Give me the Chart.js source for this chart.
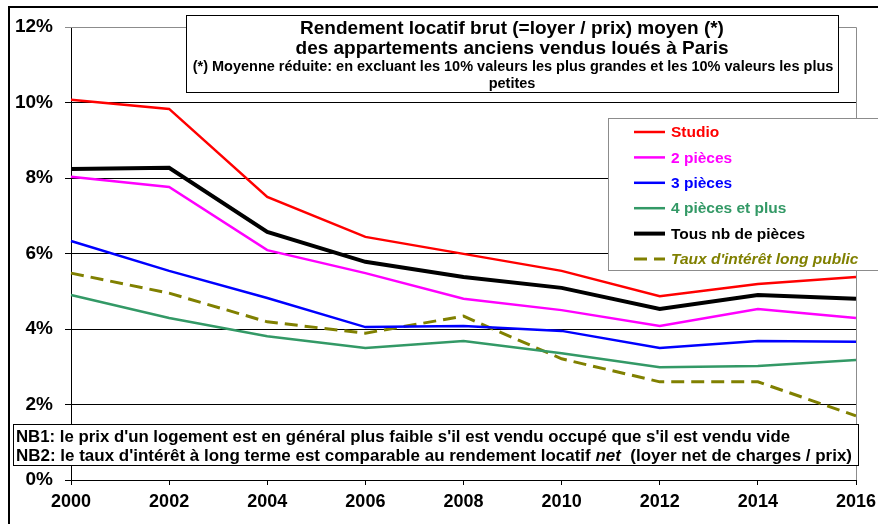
<!DOCTYPE html>
<html>
<head>
<meta charset="utf-8">
<script src="https://cdn.jsdelivr.net/npm/chart.js@4"></script>
<style>
  html, body { margin: 0; padding: 0; background: #fff; }
  #wrap { width: 878px; height: 524px; position: relative; }
</style>
</head>
<body>
<div id="wrap"><canvas id="rendement" width="878" height="524"></canvas></div>
<script>
var years = ['2000', '2002', '2004', '2006', '2008', '2010', '2012', '2014', '2016'];

// rendement brut moyen, en %
var studio       = [10.07, 9.83, 7.50, 6.44, 5.99, 5.54, 4.87, 5.19, 5.38];
var deuxPieces   = [8.03, 7.76, 6.09, 5.48, 4.80, 4.50, 4.08, 4.53, 4.29];
var troisPieces  = [6.33, 5.54, 4.82, 4.05, 4.08, 3.95, 3.50, 3.68, 3.66];
var quatrePieces = [4.90, 4.29, 3.81, 3.50, 3.68, 3.36, 2.99, 3.02, 3.18];
var tousPieces   = [8.24, 8.27, 6.57, 5.78, 5.38, 5.09, 4.53, 4.90, 4.80];
var tauxLong     = [5.48, 4.95, 4.19, 3.89, 4.34, 3.21, 2.60, 2.60, 1.70];

var yTicks = [0, 2, 4, 6, 8, 10, 12];

var FONT = "'Liberation Sans', Arial, sans-serif";
var DASH = [13, 7];

var titleLines = [
  'Rendement locatif brut (=loyer / prix) moyen (*)',
  'des appartements anciens vendus loués à Paris'
];
var titleNote = [
  "(*) Moyenne réduite: en excluant les 10% valeurs les plus grandes et les 10% valeurs les plus",
  'petites'
];

var line = function(label, data, color, width, dash, italic) {
  return {
    label: label,
    data: data,
    borderColor: color,
    backgroundColor: color,
    borderWidth: width,
    borderDash: dash || [],
    italic: !!italic,
    pointRadius: 0,
    tension: 0,
    fill: false
  };
};

var box = function(ctx, x, y, w, h, stroke) {
  ctx.fillStyle = '#fff';
  ctx.fillRect(x, y, w, h);
  ctx.strokeStyle = stroke;
  ctx.lineWidth = 1;
  ctx.strokeRect(x + 0.5, y + 0.5, w, h);
};

// cadres, titre, légende et notes dessinés par-dessus le graphique
var decorations = {
  id: 'decorations',
  afterDraw: function(chart) {
    var ctx = chart.ctx;
    var area = chart.chartArea;
    ctx.save();

    // bord droit / haut de la zone de tracé
    ctx.strokeStyle = '#8c8c8c';
    ctx.lineWidth = 1;
    ctx.beginPath();
    ctx.moveTo(area.left, Math.round(area.top) + 0.5);
    ctx.lineTo(Math.round(area.right) + 0.5, Math.round(area.top) + 0.5);
    ctx.lineTo(Math.round(area.right) + 0.5, area.bottom);
    ctx.stroke();

    // cadre extérieur
    ctx.strokeStyle = '#000';
    ctx.lineWidth = 2;
    ctx.beginPath();
    ctx.moveTo(9, 524);
    ctx.lineTo(9, 7);
    ctx.lineTo(878, 7);
    ctx.stroke();

    // titre
    box(ctx, 186, 15, 652, 77, '#000');
    ctx.fillStyle = '#000';
    ctx.textAlign = 'center';
    ctx.textBaseline = 'middle';
    ctx.font = 'bold 19px ' + FONT;
    ctx.fillText(titleLines[0], 512, 29, 424);
    ctx.fillText(titleLines[1], 512, 49, 438);
    ctx.font = 'bold 14.5px ' + FONT;
    ctx.fillText(titleNote[0], 513, 67, 642);
    ctx.fillText(titleNote[1], 512, 84);

    // légende
    box(ctx, 608, 118, 280, 152, '#8c8c8c');
    ctx.textAlign = 'left';
    chart.data.datasets.forEach(function(ds, i) {
      var y = 132 + i * 25.4;
      ctx.strokeStyle = ds.borderColor;
      ctx.lineWidth = ds.borderWidth;
      ctx.setLineDash(ds.borderDash);
      ctx.beginPath();
      ctx.moveTo(634, y);
      ctx.lineTo(665, y);
      ctx.stroke();
      ctx.setLineDash([]);
      ctx.fillStyle = ds.borderColor;
      ctx.font = (ds.italic ? 'italic ' : '') + 'bold 15.5px ' + FONT;
      ctx.fillText(ds.label, 671, y + 1);
    });

    // notes NB
    box(ctx, 13, 424, 845, 41, '#000');
    ctx.fillStyle = '#000';
    var nb = function(y, parts, maxW) {
      var total = 0;
      parts.forEach(function(p) {
        ctx.font = p[1] + ' 17px ' + FONT;
        total += ctx.measureText(p[0]).width;
      });
      var k = Math.min(1, maxW / total);
      var x = 16;
      parts.forEach(function(p) {
        ctx.font = p[1] + ' 17px ' + FONT;
        var w = ctx.measureText(p[0]).width * k;
        ctx.fillText(p[0], x, y, w);
        x += w;
      });
    };
    nb(437, [['NB1', 'bold'], [": le prix d'un logement est en général plus faible s'il est vendu occupé que s'il est vendu vide", 'bold']], 774);
    nb(456, [['NB2', 'bold'], [": le taux d'intérêt à long terme est comparable au rendement locatif ", 'bold'],
             ['net', 'italic bold'], ['  (loyer net de charges / prix)', 'bold']], 836);

    ctx.restore();
  }
};

new Chart(document.getElementById('rendement').getContext('2d'), {
  type: 'line',
  data: {
    labels: years,
    datasets: [
      line('Studio', studio, '#ff0000', 2.5),
      line('2 pièces', deuxPieces, '#ff00ff', 2.5),
      line('3 pièces', troisPieces, '#0000ff', 2.5),
      line('4 pièces et plus', quatrePieces, '#339966', 2.5),
      line('Tous nb de pièces', tousPieces, '#000000', 4),
      line("Taux d'intérêt long public", tauxLong, '#808000', 3, DASH, true)
    ]
  },
  options: {
    responsive: false,
    animation: false,
    layout: { padding: { top: 27, right: 22, left: 0, bottom: 0 } },
    plugins: {
      legend: { display: false },
      title: { display: false },
      tooltip: { enabled: false }
    },
    scales: {
      x: {
        offset: false,
        grid: { drawOnChartArea: false, drawTicks: true, tickLength: 5, color: '#000' },
        border: { color: '#000', width: 1 },
        ticks: {
          color: '#000',
          padding: 6,
          maxRotation: 0,
          autoSkip: false,
          font: { family: FONT, size: 18, weight: 'bold' }
        },
        afterFit: function(scale) {
          scale.height = 44;
          scale.paddingLeft = 0;
          scale.paddingRight = 0;
        }
      },
      y: {
        min: 0,
        max: 12,
        afterBuildTicks: function(scale) {
          scale.ticks = yTicks.map(function(v) { return { value: v }; });
        },
        grid: {
          color: function(c) { return c.tick && c.tick.value === 12 ? '#8c8c8c' : '#000'; },
          lineWidth: 1,
          tickLength: 6
        },
        border: { color: '#000', width: 1 },
        ticks: {
          color: '#000',
          padding: 12,
          font: { family: FONT, size: 19, weight: 'bold' },
          callback: function(v) { return v + '%'; }
        },
        afterFit: function(scale) {
          scale.width = 71;
          scale.paddingTop = 0;
          scale.paddingBottom = 0;
        }
      }
    }
  },
  plugins: [decorations]
});
</script>
</body>
</html>
